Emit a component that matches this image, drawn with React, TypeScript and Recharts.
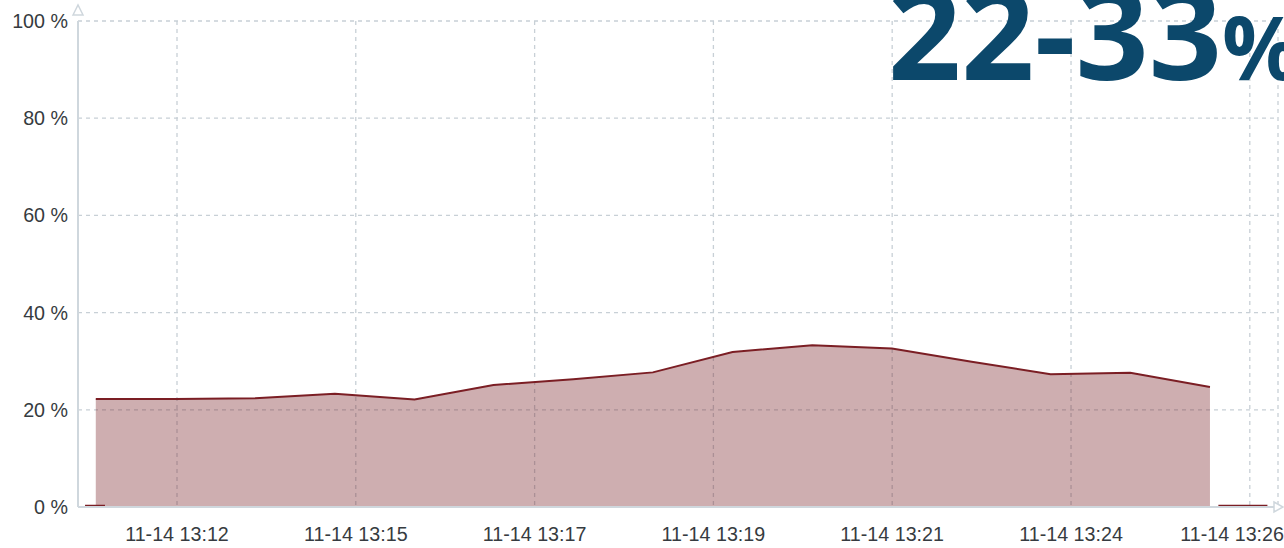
import React from "react";
import { ComposedChart, Area, Line, XAxis, YAxis, CartesianGrid } from "recharts";

// minutes after the first labelled tick (11-14 13:12)
const sampleMinutes = [-1.06, -0.02, 1.02, 2.06, 3.1, 4.13, 5.17, 6.21, 7.25, 8.29, 9.33, 10.37, 11.4, 12.44, 13.48];
const usagePercent = [22.2, 22.2, 22.4, 23.3, 22.1, 25.1, 26.3, 27.7, 31.9, 33.3, 32.6, 29.9, 27.3, 27.6, 24.7];

const idleMinutes = [-1.2, -0.94, 5, 13.59, 14.23];
const idleValues: (number | null)[] = [0.25, 0.25, null, 0.25, 0.25];

const tickMinutes = [0, 2.333, 4.667, 7, 9.333, 11.667, 14];
const tickLabels = ["11-14 13:12", "11-14 13:15", "11-14 13:17", "11-14 13:19", "11-14 13:21", "11-14 13:24", "11-14 13:26"];
const yTicks = [0, 20, 40, 60, 80, 100];

const rangeLabel = "22-33";
const rangeUnit = "%";

const data = sampleMinutes.map((t, i) => ({ t, usage: usagePercent[i] }));
const idleData = idleMinutes.map((t, i) => ({ t, idle: idleValues[i] }));

const WIDTH = 1284;
const HEIGHT = 548;
const FONT = "'Liberation Sans', Arial, Helvetica, sans-serif";

const XTick = (props: any) => {
  const { x, y, payload } = props;
  const idx = tickMinutes.indexOf(payload.value);
  const label = idx >= 0 ? tickLabels[idx] : "";
  const half = 53;
  let tx = x;
  let anchor: any = "middle";
  if (x + half > WIDTH) {
    tx = WIDTH;
    anchor = "end";
  }
  return (
    <text x={tx} y={y} dy={26} textAnchor={anchor} fill="#363b40" fontSize={19.7} fontFamily={FONT}>
      {label}
    </text>
  );
};

export default function App() {
  return (
    <div style={{ position: "absolute", left: 0, top: 0, width: WIDTH, height: HEIGHT, background: "#fff" }}>
      <ComposedChart
        width={WIDTH}
        height={HEIGHT}
        data={data}
        margin={{ top: 21, right: 6, bottom: 0, left: 0 }}
      >
        <CartesianGrid stroke="#c8d0d6" strokeDasharray="4 4" strokeWidth={1.3} />
        <XAxis
          dataKey="t"
          type="number"
          domain={[-1.292, 14.368]}
          allowDataOverflow
          ticks={tickMinutes}
          tick={<XTick />}
          tickLine={false}
          height={41}
          axisLine={{ stroke: "#cfd7dd", strokeWidth: 2 }}
          interval={0}
        />
        <YAxis
          type="number"
          domain={[0, 100]}
          ticks={yTicks}
          width={78}
          tickLine={false}
          tickMargin={4}
          axisLine={{ stroke: "#cfd7dd", strokeWidth: 2 }}
          tickFormatter={(v: number) => `${v} %`}
          tick={{ fill: "#363b40", fontSize: 19.7, fontFamily: FONT }}
          interval={0}
        />
        <Area
          dataKey="usage"
          type="linear"
          stroke="#7b1e24"
          strokeWidth={2}
          fill="#781e23"
          fillOpacity={0.36}
          isAnimationActive={false}
          dot={false}
          activeDot={false}
        />
        <Line
          data={idleData}
          dataKey="idle"
          type="linear"
          stroke="#7b1e24"
          strokeWidth={2}
          dot={false}
          activeDot={false}
          isAnimationActive={false}
          connectNulls={false}
        />
      </ComposedChart>
      <svg
        width={WIDTH}
        height={HEIGHT}
        style={{ position: "absolute", left: 0, top: 0, pointerEvents: "none" }}
      >
        <polygon points="73,15 78,5 83,15" fill="#fff" stroke="#cfd7dd" strokeWidth={1.5} />
        <polygon points="1274,502 1283,507 1274,512" fill="#fff" stroke="#cfd7dd" strokeWidth={1.5} />
        <text x={888} y={80} fill="#0c486b" fontFamily="'Open Sans', 'Noto Sans', sans-serif" fontWeight={700} fontSize={128}>
          {rangeLabel}
          <tspan fontSize={87}>{rangeUnit}</tspan>
        </text>
      </svg>
    </div>
  );
}
